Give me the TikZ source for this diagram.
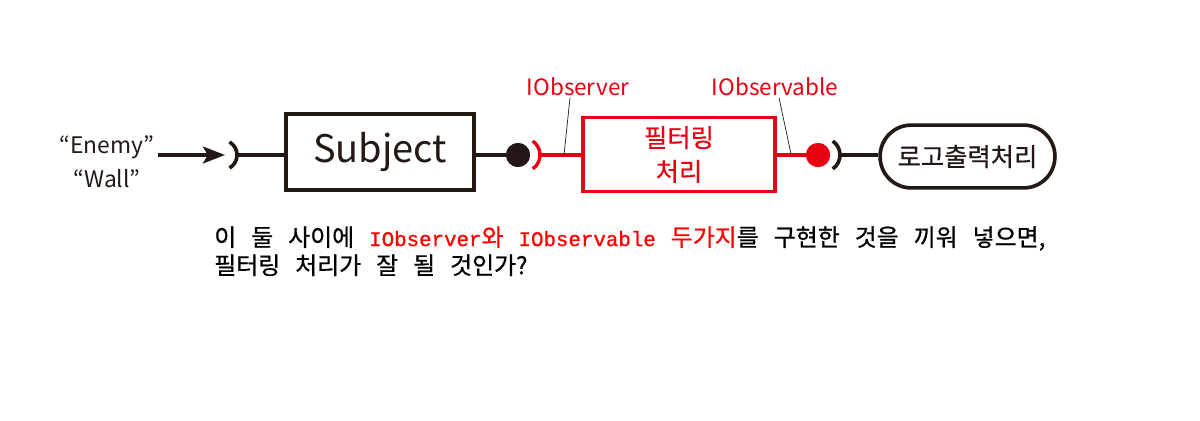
\documentclass[tikz,border=0pt]{standalone}
\usepackage{fontspec}
\setmainfont{Noto Sans CJK KR}
\newfontfamily\notefont[WordSpace=2.8, FakeBold=0.8]{Noto Sans CJK KR}
\newfontfamily\codefont[Scale=0.87, FakeBold=0.8]{Liberation Mono}
\newfontfamily\boxfont[FakeBold=0.6]{Noto Sans CJK KR}
\usetikzlibrary{positioning,arrows.meta}

\definecolor{ink}{HTML}{231815}
\definecolor{mark}{HTML}{E60012}
\definecolor{hilite}{HTML}{FF0000}

\tikzset{
	wire/.style={line width=2.6pt, draw=ink},
	redwire/.style={line width=2.4pt, draw=mark},
	socket/.style={line width=2.6pt, draw=ink},
	redsocket/.style={line width=2.4pt, draw=mark},
	ball/.style={circle, inner sep=0pt, minimum size=0.6cm},
	lead/.style={line width=0.5pt, draw=ink},
	iface/.style={text=mark, font=\fontsize{16}{20}\selectfont, inner sep=1pt},
}

\begin{document}
\begin{tikzpicture}[x=0.025cm, y=-0.025cm]
	\useasboundingbox (0,0) rectangle (1200,420);
	
	% sources
	\node[align=center, text=ink, font=\fontsize{16.2}{24.5}\selectfont] (src) at (107,162) {“Enemy”\\“Wall”};
	\coordinate (in) at (158,155);
	\coordinate (c1) at (222,155);
	\coordinate (s1) at (237,155);
	
	% boxes
	\node[draw=ink, line width=2.8pt, minimum width=4.72cm, minimum height=1.92cm,
		font=\fontsize{27}{30}\selectfont, text=ink] (subj) at (380,152) {Subject};
	\node[ball, fill=ink] (b1) at (518,155) {};
	\coordinate (c2) at (523,155);
	\coordinate (s2) at (540,155);
	
	\node[draw=mark, line width=2.2pt, minimum width=4.8cm, minimum height=1.87cm, align=center,
		text=mark, font=\boxfont\fontsize{18}{24}\selectfont] (filt) at (679,154.5) {필터링\\처리};
	\node[ball, fill=mark] (b2) at (818,155) {};
	\coordinate (c3) at (823,155);
	\coordinate (s3) at (840,155);
	
	\node[draw=ink, line width=2.6pt, rounded corners=0.78cm, minimum width=4.37cm, minimum height=1.57cm,
		text=ink, font=\boxfont\fontsize{18}{20}\selectfont] (log) at (967.5,156.5) {로고출력처리};
	
	% labels
	\node[iface] (obsrLbl) at (578,87) {IObserver};
	\node[iface] (obslLbl) at (775,87) {IObservable};
	\coordinate (obsrTip) at (564,155);
	\coordinate (obslTip) at (791,154);
	
	% connectors
	\draw[wire, -{Stealth[length=0.55cm, width=0.42cm, inset=0.12cm]}] (in) -- (225,155);
	\draw[socket] ([shift={(-60:0.375cm)}]c1) arc[start angle=-60, end angle=60, radius=0.375cm];
	\draw[wire] (s1) -- (subj.west |- s1);
	\draw[wire] (subj.east |- b1) -- (b1);
	\draw[redsocket] ([shift={(-55:0.425cm)}]c2) arc[start angle=-55, end angle=55, radius=0.425cm];
	\draw[redwire] (s2) -- (filt.west |- s2);
	\draw[redwire] (filt.east |- b2) -- (b2);
	\draw[socket] ([shift={(-55:0.425cm)}]c3) arc[start angle=-55, end angle=55, radius=0.425cm];
	\draw[wire] (s3) -- (log.west |- s3);
	\node[ball, fill=ink] at (b1) {};
	\node[ball, fill=mark] at (b2) {};
	
	\draw[lead] ([xshift=-0.2cm]obsrLbl.south) -- (obsrTip);
	\draw[lead] ([xshift=0.1cm]obslLbl.south) -- (obslTip);
	
	% question
	\node[anchor=north west, align=left, inner sep=0pt, text=black,
		font=\notefont\fontsize{17}{20}\selectfont] (note) at (214,226)
		{이 둘 사이에 {\color{hilite}{\codefont IObserver}와} {\color{hilite}{\codefont IObservable} 두가지}를 구현한 것을 끼워 넣으면,\\
		필터링 처리가 잘 될 것인가?};
\end{tikzpicture}
\end{document}
